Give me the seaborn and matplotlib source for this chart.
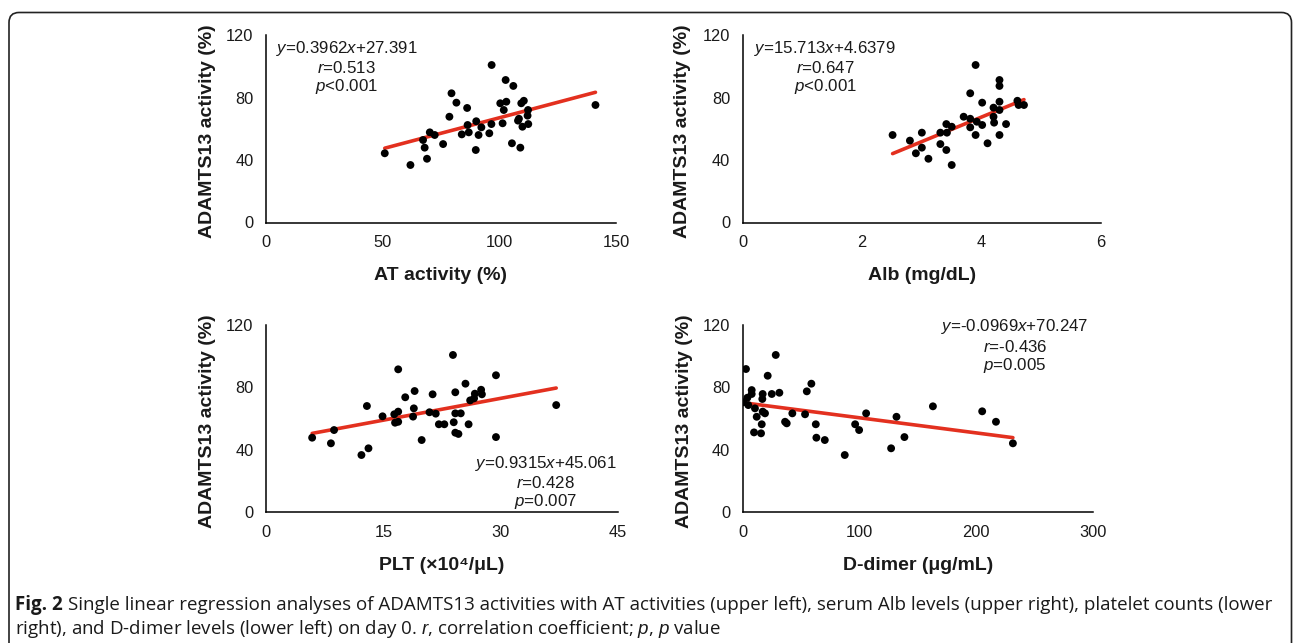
import numpy as np
import matplotlib
matplotlib.use("Agg")
import matplotlib.pyplot as plt
import matplotlib.patches as mpatches
import matplotlib.transforms as mtransforms
import seaborn as sns

# ADAMTS13 activity (%) vs AT activity (%)
at_x = [50.9, 61.9, 67.3, 68.0, 69.0, 70.2, 72.3, 75.9, 78.6, 79.5, 81.6, 83.9, 86.2,
        86.4, 86.9, 89.9, 90.1, 91.1, 92.3, 95.7, 96.6, 96.7, 100.4, 101.4, 101.9, 103.0,
        102.7, 105.4, 106.0, 108.0, 108.4, 109.0, 109.4, 110.5, 109.9, 112.3, 112.1, 112.4, 141.2]
at_y = [44.3, 36.8, 52.8, 47.9, 40.8, 57.7, 56.0, 50.2, 67.7, 82.7, 76.7, 56.4, 73.3,
        62.4, 57.7, 46.4, 64.8, 56.0, 60.9, 57.1, 63.0, 100.8, 76.3, 63.5, 72.0, 77.3,
        91.2, 50.7, 87.4, 65.2, 66.4, 47.9, 76.3, 77.9, 61.3, 72.0, 68.4, 63.0, 75.2]

# ADAMTS13 activity (%) vs Alb (mg/dL)
alb_x = [2.51, 2.80, 2.90, 3.00, 3.00, 3.11, 3.31, 3.31, 3.41, 3.41, 3.42, 3.50, 3.50,
         3.70, 3.81, 3.81, 3.81, 3.90, 3.90, 3.92, 4.01, 4.01, 4.10, 4.20, 4.20, 4.21,
         4.30, 4.30, 4.30, 4.30, 4.30, 4.41, 4.60, 4.62, 4.71]
alb_y = [56.0, 52.4, 44.3, 47.9, 57.5, 40.8, 50.2, 57.5, 46.4, 63.0, 57.5, 36.8, 61.3,
         67.7, 82.7, 66.4, 60.9, 100.8, 56.0, 64.5, 76.7, 62.4, 50.7, 73.5, 67.7, 63.9,
         91.2, 87.4, 77.3, 72.0, 56.0, 63.0, 77.9, 75.2, 75.2]

# ADAMTS13 activity (%) vs PLT (x10^4/uL)
plt_x = [5.9, 8.3, 8.7, 12.2, 13.1, 12.9, 14.9, 16.4, 16.5, 16.9, 16.9, 16.9, 17.8,
         18.8, 18.9, 19.0, 19.9, 20.9, 21.3, 21.7, 22.1, 22.8, 23.9, 24.0, 24.2, 24.2,
         24.2, 24.6, 24.9, 25.5, 25.9, 26.1, 26.7, 27.5, 27.6, 26.6, 29.4, 29.4, 37.1]
plt_y = [47.8, 44.2, 52.7, 36.7, 41.0, 68.1, 61.5, 62.8, 57.4, 91.6, 64.5, 58.0, 73.7,
         61.3, 66.6, 77.7, 46.3, 64.1, 75.6, 63.2, 56.4, 56.4, 100.8, 57.7, 51.0, 76.9,
         63.4, 50.2, 63.4, 82.4, 56.4, 71.7, 76.0, 78.5, 75.6, 73.0, 87.8, 48.2, 68.7]

# ADAMTS13 activity (%) vs D-dimer (ug/mL)
dd_x = [2.8, 0.5, 4.0, 4.8, 7.7, 7.7, 10.5, 9.7, 12.0, 15.7, 16.3, 16.8, 17.1, 17.1,
        19.1, 21.4, 24.9, 28.3, 31.4, 36.3, 37.7, 42.5, 53.4, 54.9, 58.8, 62.6, 63.1,
        70.3, 87.4, 96.3, 99.7, 105.7, 127.1, 131.7, 138.5, 162.9, 205.1, 216.9, 231.4]
dd_y = [91.8, 70.5, 73.4, 68.7, 78.3, 75.8, 66.6, 51.2, 61.2, 50.6, 56.4, 72.6, 75.8, 64.5,
        63.4, 87.5, 75.8, 100.8, 76.6, 58.0, 57.0, 63.4, 62.8, 77.5, 82.4, 56.4, 47.8,
        46.3, 36.7, 56.4, 52.7, 63.4, 41.0, 61.2, 48.2, 67.9, 64.7, 58.0, 44.2]

# regression equations printed on the figure
at_fit = (0.3962, 27.391)
alb_fit = (15.713, 4.6379)
plt_fit = (0.9315, 45.061)
dd_fit = (-0.0969, 70.247)

at_eq = ["$y$=0.3962$x$+27.391", "$r$=0.513", "$p$<0.001"]
alb_eq = ["$y$=15.713$x$+4.6379", "$r$=0.647", "$p$<0.001"]
plt_eq = ["$y$=0.9315$x$+45.061", "$r$=0.428", "$p$=0.007"]
dd_eq = ["$y$=-0.0969$x$+70.247", "$r$=-0.436", "$p$=0.005"]

y_ticks = [0, 40, 80, 120]
ylabel = "ADAMTS13 activity (%)"

sns.set_theme(style="white")
plt.rcParams['font.family'] = ['Liberation Sans', 'DejaVu Sans']
plt.rcParams['mathtext.fontset'] = 'custom'
plt.rcParams['mathtext.rm'] = 'Liberation Sans'
plt.rcParams['mathtext.it'] = 'Liberation Sans:italic'

RED = '#e3301f'
TXT = '#1a1a1a'

W, H = 1295, 643
fig = plt.figure(figsize=(W / 100, H / 100), dpi=100)
fig.patch.set_facecolor('white')


def px_axes(left, top, right, bottom):
    return fig.add_axes([left / W, 1 - bottom / H, (right - left) / W, (bottom - top) / H])


def panel(ax, x, y, fit, eq, xmax, xticks, xlabel, eq_x, eq_ys):
    sns.scatterplot(x=x, y=y, ax=ax, color='black', s=32, edgecolor='none', zorder=3)
    xs = np.array([min(x), max(x)])
    sns.lineplot(x=xs, y=fit[0] * xs + fit[1], ax=ax, color=RED, linewidth=2.6, zorder=2)
    ax.set_xlim(0, xmax)
    ax.set_ylim(0, 120)
    ax.set_xticks(xticks)
    ax.set_yticks(y_ticks)
    sns.despine(ax=ax)
    for s in ['left', 'bottom']:
        ax.spines[s].set_color('black')
        ax.spines[s].set_linewidth(1.1)
    ax.tick_params(length=0, pad=9, labelsize=11.8, labelcolor=TXT)
    ax.set_xlabel(xlabel, fontsize=14, fontweight='bold', color=TXT)
    ax.set_ylabel(ylabel, fontsize=14, fontweight='bold', color=TXT)
    ax.xaxis.set_label_coords(0.5, -0.24)
    ax.yaxis.set_label_coords(-0.143, 0.487)
    for line, yy in zip(eq, eq_ys):
        ax.text(eq_x, yy, line, transform=ax.transAxes, ha='center', va='center',
                fontsize=12.2, color=TXT)


ax1 = px_axes(266, 35, 616, 222.5)
panel(ax1, at_x, at_y, at_fit, at_eq, 150, [0, 50, 100, 150], "AT activity (%)",
      0.23, [0.929, 0.822, 0.724])

ax2 = px_axes(742.7, 35, 1101, 222.5)
panel(ax2, alb_x, alb_y, alb_fit, alb_eq, 6, [0, 2, 4, 6], "Alb (mg/dL)",
      0.23, [0.929, 0.822, 0.724])

ax3 = px_axes(266, 325, 618, 512.3)
panel(ax3, plt_x, plt_y, plt_fit, plt_eq, 45, [0, 15, 30, 45], "PLT (×10⁴/μL)",
      0.794, [0.258, 0.156, 0.060])

ax4 = px_axes(742.7, 325, 1093, 512.3)
panel(ax4, dd_x, dd_y, dd_fit, dd_eq, 300, [0, 100, 200, 300], "D-dimer (μg/mL)",
      0.777, [0.991, 0.884, 0.786])

# rounded frame around the figure (open at the bottom edge)
frame = mpatches.FancyBboxPatch((9, -30), 1291.5 - 9, (H - 12.5) + 30,
                                boxstyle="round,pad=0,rounding_size=10",
                                transform=mtransforms.IdentityTransform(),
                                facecolor='none', edgecolor='#222222', linewidth=1.2)
fig.patches.append(frame)

# caption
cap_font = ['Open Sans', 'DejaVu Sans']
cap_size = 13.5
t_bold = fig.text(15 / W, 1 - 605 / H, "Fig. 2", fontsize=cap_size, fontweight='bold',
                  family=cap_font, color=TXT, va='center', ha='left')
fig.canvas.draw()
bb = t_bold.get_window_extent()
fig.text((bb.x1 + 5) / W, 1 - 605 / H,
         "Single linear regression analyses of ADAMTS13 activities with AT activities (upper left), "
         "serum Alb levels (upper right), platelet counts (lower",
         fontsize=cap_size, family=cap_font, color=TXT, va='center', ha='left')
fig.text(15 / W, 1 - 629 / H,
         "right), and D-dimer levels (lower left) on day 0. $r$, correlation coefficient; $p$, $p$ value",
         fontsize=cap_size, family=cap_font, color=TXT, va='center', ha='left')

fig.savefig('out.png', dpi=100)
